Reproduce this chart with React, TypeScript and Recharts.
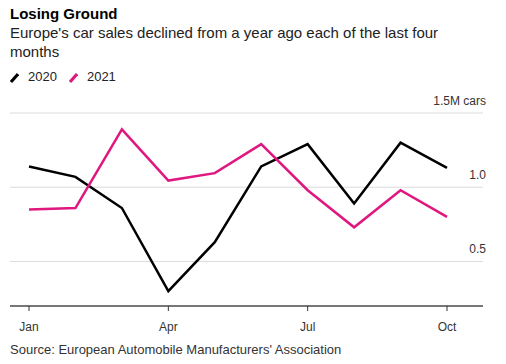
import { LineChart, Line, XAxis, YAxis, CartesianGrid } from 'recharts';

const months = ['Jan', 'Feb', 'Mar', 'Apr', 'May', 'Jun', 'Jul', 'Aug', 'Sep', 'Oct'];
const sales2020 = [1.14, 1.07, 0.86, 0.3, 0.63, 1.14, 1.29, 0.89, 1.3, 1.13];
const sales2021 = [0.85, 0.86, 1.39, 1.045, 1.095, 1.29, 0.98, 0.73, 0.98, 0.8];
const yTicks = [0.5, 1.0, 1.5];

const PINK = '#e0177f';
const FONT = '"Liberation Sans", Arial, sans-serif';

const data = months.map((m, i) => ({ month: m, y2020: sales2020[i], y2021: sales2021[i] }));

const YTick = (props: any) => {
  const { x, y, payload } = props;
  const label = payload.value === 1.5 ? '1.5M cars' : payload.value.toFixed(1);
  return (
    <text x={x + 3} y={y - 8} textAnchor="end" fontSize={12} fill="#333" fontFamily={FONT}>
      {label}
    </text>
  );
};

const LegendMark = ({ color }: { color: string }) => (
  <svg width={9} height={10} style={{ verticalAlign: 'middle', marginRight: 9 }}>
    <line x1={1} y1={9} x2={8} y2={1} stroke={color} strokeWidth={3} />
  </svg>
);

export default function App() {
  return (
    <div style={{ position: 'absolute', left: 0, top: 0, width: 506, height: 364, fontFamily: FONT, color: '#000', background: '#fff' }}>
      <div style={{ position: 'absolute', left: 10, top: 5, fontSize: 15, lineHeight: '18px', fontWeight: 'bold' }}>
        Losing Ground
      </div>
      <div style={{ position: 'absolute', left: 10, top: 23, width: 460, fontSize: 15, lineHeight: '19px', color: '#222' }}>
        Europe's car sales declined from a year ago each of the last four months
      </div>
      <div style={{ position: 'absolute', left: 10, top: 69, fontSize: 13, lineHeight: '16px', color: '#222', whiteSpace: 'nowrap' }}>
        <LegendMark color="#000" />
        <span style={{ marginRight: 12 }}>2020</span>
        <LegendMark color={PINK} />
        <span>2021</span>
      </div>
      <div style={{ position: 'absolute', left: 0, top: 0 }}>
        <LineChart width={506} height={364} data={data} margin={{ top: 113, right: 0, bottom: 28, left: 10 }}>
          <CartesianGrid vertical={false} stroke="#dcdcdc" />
          <XAxis
            dataKey="month"
            interval={2}
            padding={{ left: 19, right: 36 }}
            height={30}
            axisLine={{ stroke: '#777', strokeWidth: 2 }}
            tickLine={{ stroke: '#333' }}
            tickSize={5}
            tickMargin={11}
            tick={{ fontSize: 12, fill: '#333', fontFamily: FONT }}
          />
          <YAxis
            orientation="right"
            width={23}
            domain={[0.2, 1.5]}
            ticks={yTicks}
            axisLine={false}
            tickLine={false}
            tickSize={0}
            tickMargin={0}
            tick={<YTick />}
          />
          <Line type="linear" dataKey="y2020" stroke="#000" strokeWidth={2.5} dot={false} isAnimationActive={false} />
          <Line type="linear" dataKey="y2021" stroke={PINK} strokeWidth={2.5} dot={false} isAnimationActive={false} />
        </LineChart>
      </div>
      <div style={{ position: 'absolute', left: 10, top: 342, fontSize: 13, lineHeight: '16px', color: '#333', whiteSpace: 'nowrap' }}>
        Source: European Automobile Manufacturers' Association
      </div>
    </div>
  );
}
